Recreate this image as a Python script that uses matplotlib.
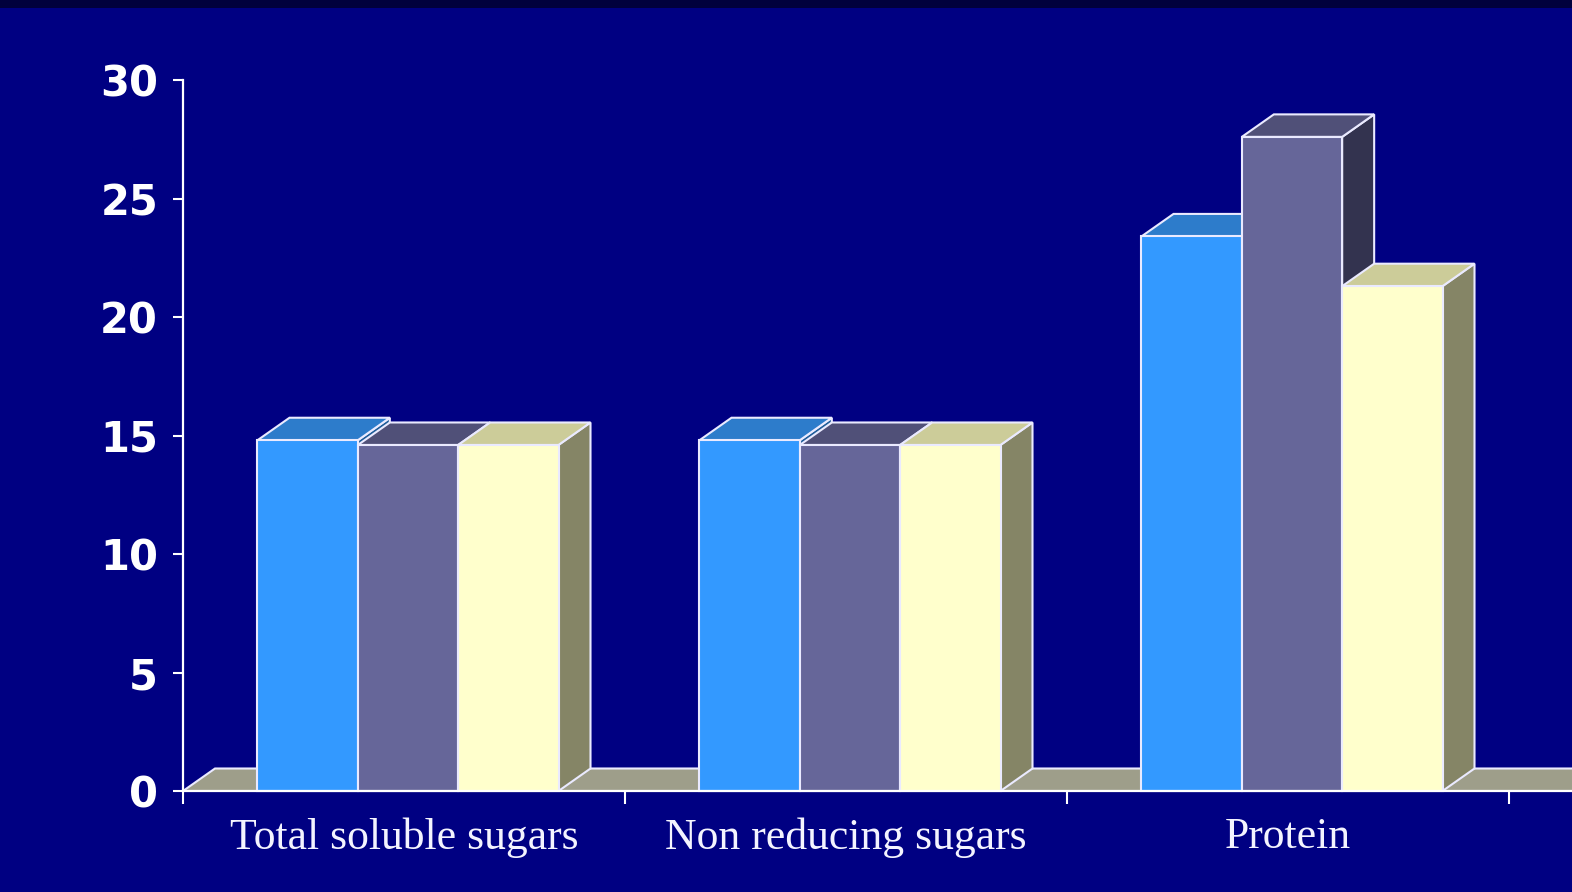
import matplotlib
matplotlib.use("Agg")
import matplotlib.pyplot as plt
from matplotlib.patches import Polygon, Rectangle

# ---- data ----
categories = ["Total soluble sugars", "Non reducing sugars", "Protein"]
series_a = [14.8, 14.8, 23.4]
series_b = [14.6, 14.6, 27.6]
series_c = [14.6, 14.6, 21.3]
y_ticks = [0, 5, 10, 15, 20, 25, 30]

# ---- style ----
BG = "#000082"
EDGE = "#EAEAFF"
FLOOR = "#9E9E8A"
# (front, top, side) shades per series
SHADES = [
    ("#3399FF", "#2D7CCB", "#1F5C99"),
    ("#666699", "#505078", "#33334F"),
    ("#FFFFCC", "#CCCC99", "#858566"),
]

W, H, DPI = 1572, 892, 100
fig = plt.figure(figsize=(W / DPI, H / DPI), dpi=DPI)
fig.patch.set_facecolor(BG)

# dark band along the top edge of the slide
fig.patches.append(Rectangle((0, 1 - 8 / H), 1, 8 / H, transform=fig.transFigure,
                             facecolor="#00003C", edgecolor="none", zorder=0))

ax_left, ax_bottom, ax_h = 183, 101, 711
ax = fig.add_axes([ax_left / W, ax_bottom / H, (W - ax_left) / W, ax_h / H])
ax.set_facecolor("none")

cat_px = 442.0
xmax = (W - ax_left) / cat_px
ax.set_xlim(0, xmax)
ax.set_ylim(0, 30)

# depth offset of the 3-D look, given in pixels and converted to data units
px_per_y = ax_h / 30.0
dx = 32.0 / cat_px
dy = 22.5 / px_per_y
group_shift = 4.0 / cat_px   # clusters sit slightly right of the category centre

# floor
floor = Polygon([(0, 0), (xmax + 1, 0), (xmax + 1 + dx, dy), (dx, dy)],
                closed=True, facecolor=FLOOR, edgecolor=EDGE, linewidth=1.5,
                zorder=1)
ax.add_patch(floor)

bar_w = 0.227
series = [series_a, series_b, series_c]
z = 2
for ci in range(len(categories)):
    center = ci + 0.5 + group_shift
    for si, vals in enumerate(series):
        h = vals[ci]
        x0 = center - 1.5 * bar_w + si * bar_w
        x1 = x0 + bar_w
        front_c, top_c, side_c = SHADES[si]
        side = Polygon([(x1, 0), (x1 + dx, dy), (x1 + dx, h + dy), (x1, h)],
                       closed=True, facecolor=side_c, edgecolor=EDGE,
                       linewidth=1.5, zorder=z, clip_on=False)
        top = Polygon([(x0, h), (x1, h), (x1 + dx, h + dy), (x0 + dx, h + dy)],
                      closed=True, facecolor=top_c, edgecolor=EDGE,
                      linewidth=1.5, zorder=z, clip_on=False)
        front = Rectangle((x0, 0), bar_w, h, facecolor=front_c, edgecolor=EDGE,
                          linewidth=1.5, zorder=z + 0.5, clip_on=False)
        for p in (side, top, front):
            ax.add_patch(p)
        z += 1

# axes styling
for s in ("top", "right"):
    ax.spines[s].set_visible(False)
for s in ("left", "bottom"):
    ax.spines[s].set_color("white")
    ax.spines[s].set_linewidth(1.6)
    ax.spines[s].set_zorder(50)
ax.spines["bottom"].set_bounds(0, xmax)

ax.set_yticks(y_ticks)
ax.set_yticklabels([str(t) for t in y_ticks])
ax.tick_params(axis="y", colors="white", length=7, width=1.5, pad=11,
               labelsize=30)
for lab in ax.get_yticklabels():
    lab.set_fontfamily("DejaVu Sans")
    lab.set_fontweight("bold")

ax.set_xticks([0, 1, 2, 3])
ax.set_xticklabels([])
ax.tick_params(axis="x", which="major", colors="white", length=9, width=1.5)
ax.set_xticks([0.5, 1.5, 2.5], minor=True)
ax.set_xticklabels(categories, minor=True)
ax.tick_params(axis="x", which="minor", length=0, pad=19, labelsize=31.5,
               labelcolor="#F4F4FF")
for lab in ax.get_xticklabels(minor=True):
    lab.set_fontfamily("Liberation Serif")

fig.savefig("out.png", dpi=DPI, facecolor=fig.get_facecolor())
